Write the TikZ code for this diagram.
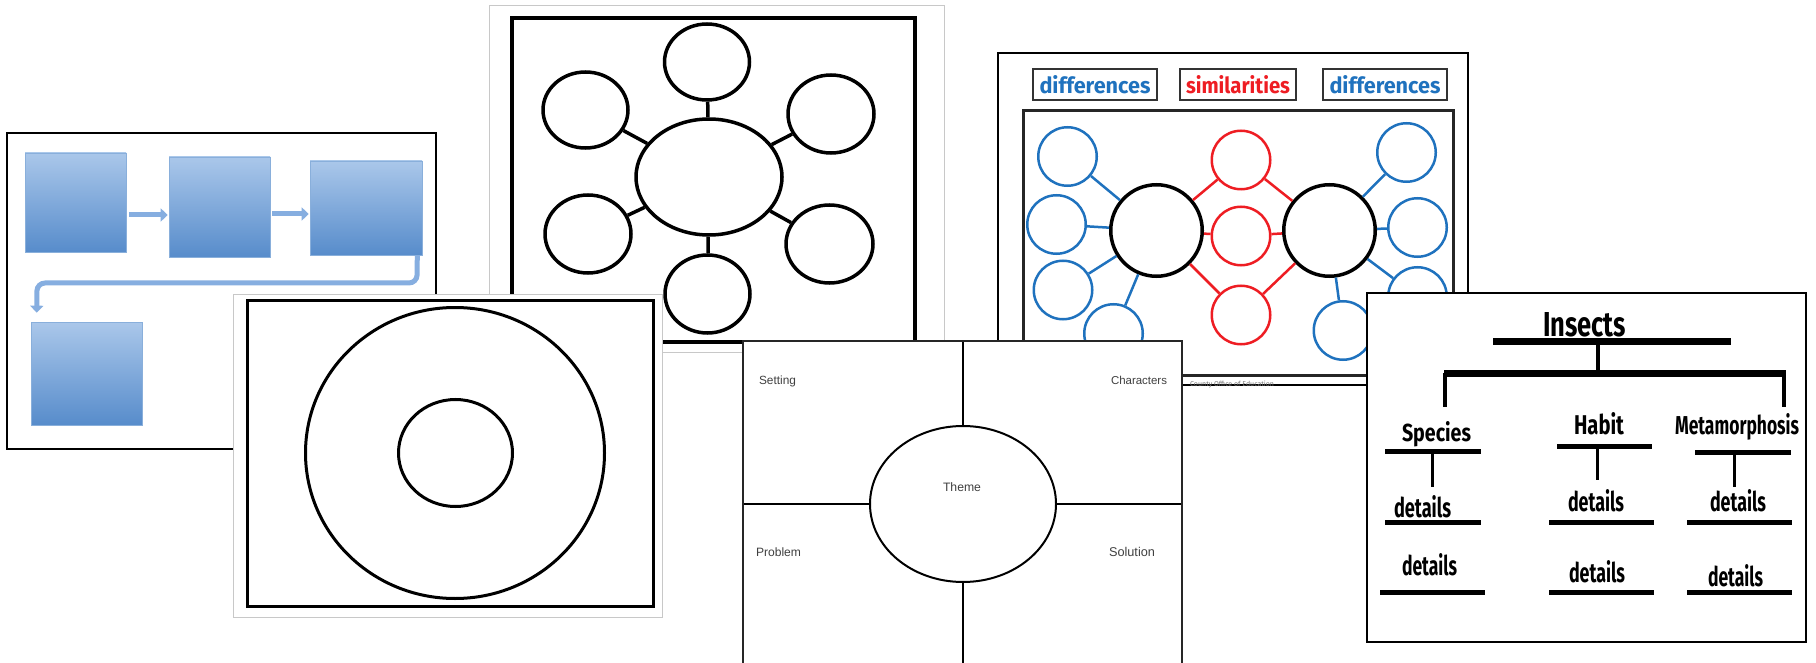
\documentclass[tikz,border=0pt]{standalone}
\usepackage{graphicx}
\usepackage{fontspec}
\setmainfont{Fira Sans}
\newfontfamily\handfont{Liberation Sans}
\usetikzlibrary{shapes.geometric,arrows.meta}
\definecolor{boxtop}{HTML}{AAC7EA}
\definecolor{boxbot}{HTML}{578CCB}
\definecolor{arrowblue}{HTML}{86AEE0}
\definecolor{cblue}{HTML}{1F72BE}
\definecolor{cred}{HTML}{EE1D23}
\definecolor{panelgray}{HTML}{C8C8C8}
\newcommand{\fitt}[3]{\resizebox{#1pt}{#2pt}{#3}}
\newcommand{\fitw}[2]{\resizebox{#1pt}{!}{#2}}
\begin{document}
\begin{tikzpicture}[x=1pt,y=-1pt,
  bluebox/.style={rectangle, top color=boxtop, bottom color=boxbot, draw=boxbot!70!white, line width=0.6pt, inner sep=0pt},
  flowarrow/.style={draw=arrowblue, line width=5pt, -{Triangle[length=7pt,width=13pt]}},
  web/.style={ellipse, draw=black, line width=3.5pt, fill=white, inner sep=0pt},
  webline/.style={line width=3.5pt},
  ring/.style={ellipse, draw=black, line width=3pt, inner sep=0pt},
  lblbox/.style={rectangle, draw=black!80, line width=1.8pt, fill=white, inner sep=0pt},
  bigc/.style={circle, draw=black, line width=3.5pt, fill=white, minimum size=91.5pt, inner sep=0pt},
  redc/.style={circle, draw=cred, line width=2.5pt, fill=white, minimum size=58.5pt, inner sep=0pt},
  bluec/.style={circle, draw=cblue, line width=2.5pt, fill=white, minimum size=58.5pt, inner sep=0pt},
  redl/.style={draw=cred, line width=2.5pt},
  bluel/.style={draw=cblue, line width=2.5pt},
  txt/.style={anchor=base west, inner sep=0pt, outer sep=0pt},
  story/.style={txt, text=black!75, font=\handfont},
  insect/.style={txt, font=\bfseries},
  thickbar/.style={line width=7pt},
  midbar/.style={line width=5pt},
  stem/.style={line width=3.5pt}
]
\useasboundingbox (0,0) rectangle (1816,663);
\clip (0,0) rectangle (1816,663);
\fill[white] (0,0) rectangle (1816,663);

% ---------- Panel 1: flowchart ----------
\draw[fill=white, line width=2.5pt] (7,133) rectangle (436,449);
\node[bluebox, minimum width=101pt, minimum height=99pt] (b1) at (75.5,202.5) {};
\node[bluebox, minimum width=101pt, minimum height=100pt] (b2) at (219.5,207) {};
\node[bluebox, minimum width=112pt, minimum height=94pt] (b3) at (366,208) {};
\node[bluebox, minimum width=111pt, minimum height=103pt] (b4) at (86.5,373.5) {};
\draw[flowarrow, shorten <=3pt, shorten >=1pt] ([yshift=-12.5pt]b1.east) -- ([yshift=-8pt]b2.west);
\draw[flowarrow, shorten <=2pt, shorten >=1pt] ([yshift=-7pt]b2.east) -- ([yshift=-6pt]b3.west);
\coordinate (bendA) at (417,283);
\coordinate (bendB) at (37,283);
\draw[flowarrow, rounded corners=8pt] ([xshift=-5pt]b3.south east) -- (bendA) -- (bendB) -- ([xshift=6pt,yshift=9pt]b4.north west);

% ---------- Panel 3: bubble web ----------
\draw[fill=white, draw=panelgray, line width=1pt] (489,6) rectangle (944,352);
\draw[line width=4pt] (512,18) rectangle (915,342);
\node[web, minimum width=146pt, minimum height=116pt] (wc) at (709,177) {};
\node[web, minimum width=85pt, minimum height=76pt] (wt) at (707,62) {};
\node[web, minimum width=85pt, minimum height=76pt] (wul) at (585.5,110) {};
\node[web, minimum width=86pt, minimum height=78pt] (wur) at (831,114) {};
\node[web, minimum width=86pt, minimum height=78pt] (wll) at (588,234) {};
\node[web, minimum width=87pt, minimum height=78pt] (wlr) at (829.5,244) {};
\node[web, minimum width=85pt, minimum height=78pt] (wb) at (707.5,294) {};
\foreach \n in {wt,wul,wur,wll,wlr,wb} \draw[webline] (wc) -- (\n);

% ---------- Panel 2: concentric circles ----------
\draw[fill=white, draw=panelgray, line width=1pt] (233,294) rectangle (662,617);
\draw[line width=3pt] (247,300) rectangle (653,606);
\node[ring, minimum width=299pt, minimum height=291pt] (outer) at (455,453) {};
\node[ring, minimum width=114pt, minimum height=107pt] (inner) at (455.5,453) {};

% ---------- Panel 4: compare / contrast ----------
\draw[fill=white, line width=2pt] (998,53) rectangle (1468,385);
\draw[line width=3pt, draw=black!85] (1023,111) rectangle (1453,375);
\node[lblbox, minimum width=124pt, minimum height=31pt] (d1) at (1095,84.5) {\fitt{111}{18}{\bfseries\color{cblue}differences}};
\node[lblbox, minimum width=116pt, minimum height=31pt] (sim) at (1238,84.5) {\fitt{104}{18}{\bfseries\color{cred}similarities}};
\node[lblbox, minimum width=124pt, minimum height=31pt] (d2) at (1385,84.5) {\fitt{111}{18}{\bfseries\color{cblue}differences}};
\node[anchor=base west, inner sep=0pt, text=black!55, font=\fontsize{7}{8}\selectfont] (county) at (1190,386) {County Office of Education};
\coordinate (cBL) at (1156.5,230.5);
\coordinate (cBR) at (1329.5,230.5);
\node[bigc] (BL) at (cBL) {};
\node[bigc] (BR) at (cBR) {};
\node[redc] (rt) at (1241,160) {};
\node[redc] (rm) at (1241,236) {};
\node[redc] (rb) at (1241,315) {};
\node[bluec] (L1) at (1067.5,156.5) {};
\node[bluec] (L2) at (1056.5,224.5) {};
\node[bluec] (L3) at (1063,290) {};
\node[bluec] (L4) at (1113.5,333.5) {};
\node[bluec] (R1) at (1406.5,152.5) {};
\node[bluec] (R2) at (1417.5,227.5) {};
\node[bluec] (R3) at (1417.5,296.5) {};
\node[bluec] (R4) at (1343,330.5) {};
\foreach \n in {rt,rm,rb} {\draw[redl] (BL) -- (\n); \draw[redl] (BR) -- (\n);}
\foreach \n in {L1,L2,L3,L4} \draw[bluel] (BL) -- (\n);
\foreach \n in {R1,R2,R3,R4} \draw[bluel] (BR) -- (\n);

% ---------- Panel 5: story map ----------
\draw[fill=white, line width=2pt, draw=black!85] (743,341) rectangle (1182,690);
\node[ellipse, draw=black, line width=2pt, minimum width=186pt, minimum height=156pt, inner sep=0pt] (theme) at (963,504) {};
\coordinate (smT) at (963,342);
\coordinate (smB) at (963,670);
\coordinate (smL) at (744,504);
\coordinate (smR) at (1181,504);
\draw[line width=1.3pt] (theme.north) -- (smT);
\draw[line width=1.3pt] (theme.south) -- (smB);
\draw[line width=1.3pt] (theme.west) -- (smL);
\draw[line width=1.3pt] (theme.east) -- (smR);
\node[story] (setting) at (759,384) {\fitw{37}{Setting}};
\node[story] (chars) at (1111,384) {\fitw{56}{Characters}};
\node[story] (themet) at (943,491) {\fitw{38}{Theme}};
\node[story] (problem) at (756,556) {\fitw{45}{Problem}};
\node[story] (solution) at (1109,556) {\fitw{46}{Solution}};

% ---------- Panel 6: insects tree ----------
\draw[fill=white, line width=2pt] (1367,293) rectangle (1806,642);
\node[insect] (ins) at (1543,336) {\fitt{83}{24}{Insects}};
\draw[thickbar] (1493,341) -- (1731,341);
\draw[stem] (1598,341) -- (1598,373);
\draw[thickbar] (1444,373) -- (1786,373);
\draw[stem] (1445,373) -- (1445,407);
\draw[stem] (1784,373) -- (1784,407);
\node[insect] (spec) at (1402,441) {\fitt{69}{20}{Species}};
\node[insect] (hab) at (1574,434) {\fitt{50}{22}{Habit}};
\node[insect] (meta) at (1675,434) {\fitt{124}{21}{Metamorphosis}};
\draw[midbar] (1385,451) -- (1481,451);
\draw[stem, line width=3pt] (1432,451) -- (1432,487);
\draw[midbar] (1557,446) -- (1652,446);
\draw[stem, line width=3pt] (1597,446) -- (1597,480);
\draw[midbar] (1695,452) -- (1791,452);
\draw[stem, line width=3pt] (1734,452) -- (1734,487);
\node[insect] (s1) at (1394,517) {\fitt{57}{22}{details}};
\node[insect] (s2) at (1402,575) {\fitt{55}{22}{details}};
\node[insect] (h1) at (1568,511) {\fitt{56}{22}{details}};
\node[insect] (h2) at (1569,582) {\fitt{56}{22}{details}};
\node[insect] (m1) at (1710,511) {\fitt{56}{22}{details}};
\node[insect] (m2) at (1708,586) {\fitt{55}{22}{details}};
\draw[midbar] (1385,522) -- (1481,522);
\draw[midbar] (1380,592) -- (1485,592);
\draw[midbar] (1549,522) -- (1654,522);
\draw[midbar] (1549,592) -- (1654,592);
\draw[midbar] (1687,522) -- (1792,522);
\draw[midbar] (1687,592) -- (1792,592);
\end{tikzpicture}
\end{document}
